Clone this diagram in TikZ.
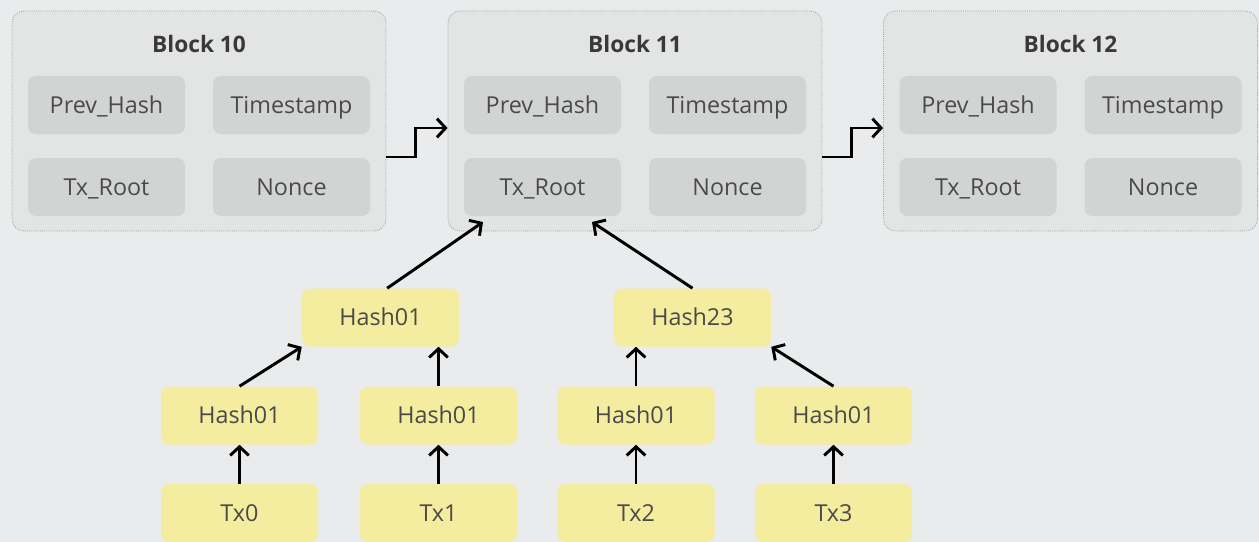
\documentclass[tikz,border=0pt]{standalone}
\usepackage{fontspec}
\setmainfont{Open Sans}
\usetikzlibrary{arrows.meta}

\definecolor{bgcol}{HTML}{E9EBEC}
\definecolor{blockfill}{HTML}{E3E5E5}
\definecolor{blockline}{HTML}{9A9C9C}
\definecolor{fieldfill}{HTML}{D2D4D3}
\definecolor{hashfill}{HTML}{F4EC9E}
\definecolor{txtcol}{HTML}{4A4A4A}
\definecolor{titlecol}{HTML}{3A3838}

\tikzset{
    block/.style={draw=blockline, densely dotted, line width=0.6pt, fill=blockfill,
        rounded corners=9pt, minimum width=280.5pt, minimum height=165pt},
    field/.style={fill=fieldfill, rounded corners=6pt, minimum width=117.75pt,
        minimum height=43.5pt, text=txtcol, font=\fontsize{17.5}{20}\selectfont,
        text height=12.5pt, text depth=0pt},
    hashbox/.style={field, fill=hashfill},
    title/.style={text=titlecol, font=\fontsize{17}{20}\selectfont\bfseries,
        text height=12.2pt, text depth=0pt},
    link/.style={line width=2.2pt, -{Straight Barb[length=6.5pt,width=14pt]}},
}

\begin{document}
\begin{tikzpicture}[x=0.75pt,y=-0.75pt]

        \useasboundingbox (0,0) rectangle (1259,542);
        \fill[bgcol] (0,0) rectangle (1259,542);
        \clip (0,0) rectangle (1259,542);

        % chain of blocks
        \foreach \n/\x in {10/199,11/635,12/1070.5} {
            \node[block] (b\n) at (\x,121) {};
            \node[title] (b\n title) at (\x,44) {Block \n};
            \node[field] (b\n prev) at (\x-92.5,105) {Prev\_Hash};
            \node[field] (b\n time) at (\x+92.5,105) {Timestamp};
            \node[field] (b\n root) at (\x-92.5,187) {Tx\_Root};
            \node[field] (b\n nonce) at (\x+92.5,187) {Nonce};
        }

        \draw[link] ([yshift=-27pt]b10.east) -- ++(29,0) |- ([yshift=-5.25pt]b11.west);
        \draw[link] ([yshift=-27pt]b11.east) -- ++(29,0) |- ([yshift=-5.25pt]b12.west);

        % merkle tree
        \node[hashbox] (h01) at (380.5,317.5) {Hash01};
        \node[hashbox] (h23) at (692.5,317.5) {Hash23};

        \node[hashbox] (h0) at (239.5,415.5) {Hash01};
        \node[hashbox] (h1) at (438.5,415.5) {Hash01};
        \node[hashbox] (h2) at (636,415.5) {Hash01};
        \node[hashbox] (h3) at (833.5,415.5) {Hash01};

        \node[hashbox] (tx0) at (239.5,513) {Tx0};
        \node[hashbox] (tx1) at (438.5,513) {Tx1};
        \node[hashbox] (tx2) at (636,513) {Tx2};
        \node[hashbox] (tx3) at (833.5,513) {Tx3};

        \coordinate (in1) at (483,222);
        \coordinate (in2) at (592,222);

        \draw[link] (tx0) -- (h0);
        \draw[link] (tx1) -- (h1);
        \draw[link] (tx2) -- (h2);
        \draw[link] (tx3) -- (h3);

        \draw[link] (h0.north) -- (h01.south west);
        \draw[link] (h1.north) -- (h1 |- h01.south);
        \draw[link] (h2.north) -- (h2 |- h23.south);
        \draw[link] (h3.north) -- (h23.south east);

        \draw[link] ([xshift=5pt]h01.north) -- (in1);
        \draw[link] (h23.north) -- (in2);

\end{tikzpicture}
\end{document}
